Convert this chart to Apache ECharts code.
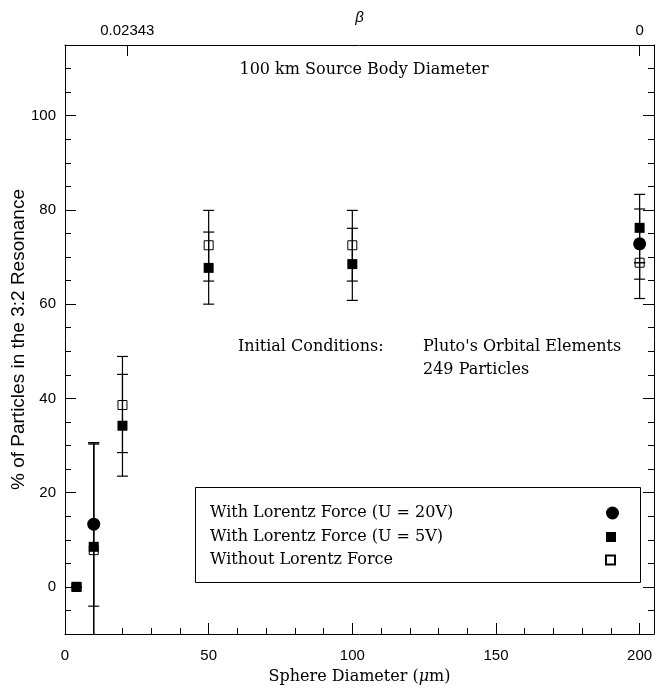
<!DOCTYPE html>
<html>
<head>
<meta charset="UTF-8">
<title>3:2 Resonance</title>
<script src="https://cdn.jsdelivr.net/npm/echarts@6/dist/echarts.min.js"></script>
<style>
  html, body { margin: 0; padding: 0; background: #fff; }
  #main { width: 656px; height: 688px; }
</style>
</head>
<body>
<div id="main"></div>
<script>
// 20V, filled circles
var circleX  = [10, 200];
var circleY  = [13.3, 72.8];
var circleLo = [-4.1, 61.2];
var circleHi = [30.6, 83.3];

// 5V, filled squares
var fillX  = [4, 10, 20, 50, 100, 200];
var fillY  = [0, 8.5, 34.2, 67.7, 68.5, 76.2];
var fillLo = [0, -13.5, 23.5, 60.0, 60.8, 65.3];
var fillHi = [0, 30.6, 45.1, 75.3, 76.1, 80.2];

// no Lorentz force, open squares
var openX  = [4, 10, 20, 50, 100, 200];
var openY  = [0, 7.8, 38.6, 72.5, 72.5, 68.8];
var openLo = [0, -14.8, 28.5, 64.9, 64.9, 68.8];
var openHi = [0, 30.3, 48.9, 79.9, 79.9, 68.8];

var seriesNames = ['With Lorentz Force (U = 20V)', 'With Lorentz Force (U = 5V)', 'Without Lorentz Force'];

// axis ticks
var xMinorTicks = [0, 10, 20, 30, 40, 50, 60, 70, 80, 90, 100, 110, 120, 130, 140, 150, 160, 170, 180, 190, 200];
var xMajorTicks = [0, 50, 100, 150, 200];
var yMinorTicks = [-10, -5, 0, 5, 10, 15, 20, 25, 30, 35, 40, 45, 50, 55, 60, 65, 70, 75, 80, 85, 90, 95, 100, 105, 110, 115];
var yMajorTicks = [0, 20, 40, 60, 80, 100];
var betaTickPos = [21.7, 200];
var betaLabels  = ['0.02343', '0'];

var SANS = '"Liberation Sans", Arial, sans-serif';
var SERIF = '"DejaVu Serif", serif';

function pts(xs, ys) {
  var out = [];
  for (var i = 0; i < xs.length; i++) out.push([xs[i], ys[i]]);
  return out;
}
function bars(xs, lo, hi) {
  var out = [];
  for (var i = 0; i < xs.length; i++) out.push([xs[i], lo[i], hi[i]]);
  return out;
}

function renderErr(params, api) {
  var x = api.value(0), lo = api.value(1), hi = api.value(2);
  var pLo = api.coord([x, lo]);
  var pHi = api.coord([x, hi]);
  var cs = params.coordSys;
  var bottom = cs.y + cs.height, top = cs.y;
  var cx = pLo[0], hw = 5.5;
  var st = { stroke: '#000', lineWidth: 1.2 };
  var kids = [];
  var y1 = Math.min(pLo[1], bottom), y2 = Math.max(pHi[1], top);
  if (y1 - y2 > 0.5) {
    kids.push({ type: 'line', shape: { x1: cx, y1: y1, x2: cx, y2: y2 }, style: st });
  }
  if (pLo[1] <= bottom) kids.push({ type: 'line', shape: { x1: cx - hw, y1: pLo[1], x2: cx + hw, y2: pLo[1] }, style: st });
  if (pHi[1] >= top) kids.push({ type: 'line', shape: { x1: cx - hw, y1: pHi[1], x2: cx + hw, y2: pHi[1] }, style: st });
  return { type: 'group', children: kids };
}

function errSeries(data) {
  return {
    type: 'custom', renderItem: renderErr, data: data,
    encode: { x: 0, y: [1, 2] }, z: 1, silent: true
  };
}

function legendFor(name, w, h, top) {
  return {
    data: [name], orient: 'vertical', align: 'right',
    left: 210, top: top, padding: 0,
    itemWidth: w, itemHeight: h, selectedMode: false,
    formatter: function (n) { return '{a|' + n + '}'; },
    textStyle: {
      color: '#000', fontFamily: SERIF, fontSize: 16, lineHeight: 16,
      rich: { a: { width: 391, align: 'left', fontFamily: SERIF, fontSize: 16, color: '#000' } }
    }
  };
}

var chart = echarts.init(document.getElementById('main'));

var lineBlack = { show: true, onZero: false, lineStyle: { color: '#000', width: 1 } };
var noLine = { show: false, onZero: false };

chart.setOption({
  animation: false,
  backgroundColor: '#fff',
  grid: { left: 65, right: 2, top: 45, bottom: 54, containLabel: false, outerBoundsMode: 'none' },
  legend: [
    legendFor(seriesNames[0], 13, 13, 505),
    legendFor(seriesNames[1], 10, 10, 529),
    legendFor(seriesNames[2], 9, 9, 552)
  ],
  xAxis: [
    {
      type: 'value', min: 0, max: 205, position: 'bottom',
      axisLine: lineBlack,
      axisTick: { inside: true, length: 6, customValues: xMinorTicks, lineStyle: { color: '#000' } },
      axisLabel: { customValues: xMajorTicks, margin: 14, color: '#000', fontFamily: SANS, fontSize: 15 },
      splitLine: { show: false },
      name: 'Sphere Diameter ({i|μ}m)', nameLocation: 'middle', nameGap: 35, nameMoveOverlap: false,
      nameTextStyle: {
        color: '#000', fontFamily: SERIF, fontSize: 16,
        rich: { i: { fontStyle: 'italic', fontFamily: SERIF, fontSize: 16, color: '#000' } }
      }
    },
    {
      type: 'value', min: 0, max: 205, position: 'bottom',
      axisLine: noLine,
      axisTick: { inside: true, length: 11, customValues: xMajorTicks, lineStyle: { color: '#000' } },
      axisLabel: { show: false },
      splitLine: { show: false }
    },
    {
      type: 'value', min: 0, max: 205, position: 'top',
      axisLine: lineBlack,
      axisTick: { inside: true, length: 11, customValues: betaTickPos, lineStyle: { color: '#000' } },
      axisLabel: {
        customValues: betaTickPos, margin: 7, color: '#000', fontFamily: SANS, fontSize: 15,
        formatter: function (v) { return betaLabels[betaTickPos.indexOf(v)]; }
      },
      splitLine: { show: false },
      name: 'β', nameLocation: 'middle', nameGap: 20, nameMoveOverlap: false,
      nameTextStyle: { color: '#000', fontFamily: SANS, fontSize: 15, fontStyle: 'italic' }
    }
  ],
  yAxis: [
    {
      type: 'value', min: -10, max: 115, position: 'left',
      axisLine: lineBlack,
      axisTick: { inside: true, length: 6, customValues: yMinorTicks, lineStyle: { color: '#000' } },
      axisLabel: { customValues: yMajorTicks, margin: 9, color: '#000', fontFamily: SANS, fontSize: 15 },
      splitLine: { show: false },
      name: '% of Particles in the 3:2 Resonance', nameLocation: 'middle', nameGap: 37, nameMoveOverlap: false,
      nameTextStyle: { color: '#000', fontFamily: SANS, fontSize: 19 }
    },
    {
      type: 'value', min: -10, max: 115, position: 'left',
      axisLine: noLine,
      axisTick: { inside: true, length: 11, customValues: yMajorTicks, lineStyle: { color: '#000' } },
      axisLabel: { show: false }, splitLine: { show: false }
    },
    {
      type: 'value', min: -10, max: 115, position: 'right',
      axisLine: lineBlack,
      axisTick: { inside: true, length: 6, customValues: yMinorTicks, lineStyle: { color: '#000' } },
      axisLabel: { show: false }, splitLine: { show: false }
    },
    {
      type: 'value', min: -10, max: 115, position: 'right',
      axisLine: noLine,
      axisTick: { inside: true, length: 11, customValues: yMajorTicks, lineStyle: { color: '#000' } },
      axisLabel: { show: false }, splitLine: { show: false }
    }
  ],
  graphic: [
    { type: 'text', x: 364, y: 70, style: { text: '100 km Source Body Diameter', align: 'center', verticalAlign: 'middle', font: '16px ' + SERIF, fill: '#000' } },
    { type: 'text', x: 238, y: 347, style: { text: 'Initial Conditions:', align: 'left', verticalAlign: 'middle', font: '16px ' + SERIF, fill: '#000' } },
    { type: 'text', x: 423, y: 347, style: { text: "Pluto's Orbital Elements", align: 'left', verticalAlign: 'middle', font: '16px ' + SERIF, fill: '#000' } },
    { type: 'text', x: 423, y: 370, style: { text: '249 Particles', align: 'left', verticalAlign: 'middle', font: '16px ' + SERIF, fill: '#000' } },
    { type: 'rect', shape: { x: 195.5, y: 487.5, width: 445, height: 95 }, style: { fill: 'none', stroke: '#000', lineWidth: 1 } }
  ],
  series: [
    errSeries(bars(openX, openLo, openHi)),
    errSeries(bars(fillX, fillLo, fillHi)),
    errSeries(bars(circleX, circleLo, circleHi)),
    {
      name: seriesNames[2], type: 'scatter', symbol: 'rect', symbolSize: 9, z: 2,
      data: pts(openX, openY), silent: true,
      itemStyle: { color: 'rgba(0,0,0,0)', borderColor: '#000', borderWidth: 1, opacity: 1 }
    },
    {
      name: seriesNames[1], type: 'scatter', symbol: 'rect', symbolSize: 10, z: 3,
      data: pts(fillX, fillY), silent: true,
      itemStyle: { color: '#000', opacity: 1 }
    },
    {
      name: seriesNames[0], type: 'scatter', symbol: 'circle', symbolSize: 13, z: 4,
      data: pts(circleX, circleY), silent: true,
      itemStyle: { color: '#000', opacity: 1 }
    }
  ]
});
</script>
</body>
</html>
